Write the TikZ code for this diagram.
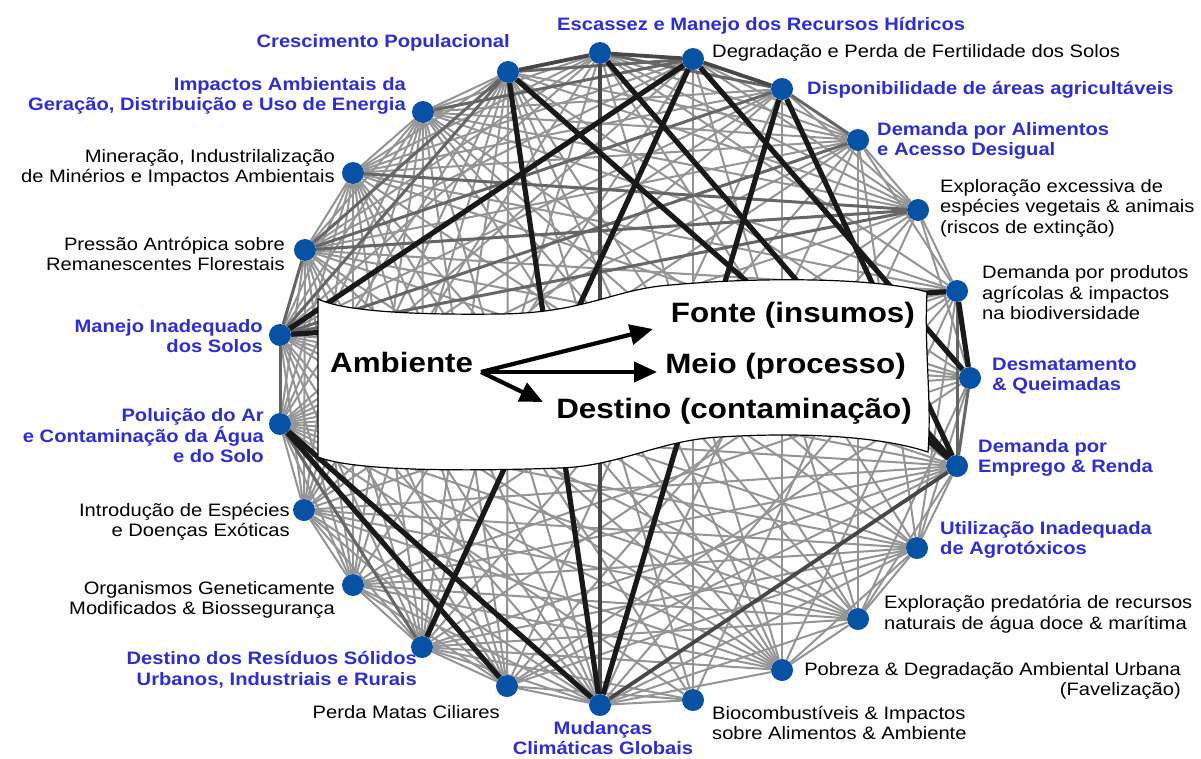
\documentclass[tikz,border=0pt]{standalone}
\usepackage{fontspec}
\setmainfont[FakeStretch=1.12]{Liberation Sans}
\usetikzlibrary{arrows.meta}
\definecolor{lblue}{RGB}{45,45,215}
\definecolor{dotblue}{RGB}{8,82,165}
\pgfdeclarelayer{back}
\pgfdeclarelayer{edges}
\pgfdeclarelayer{mid}
\pgfsetlayers{back,edges,mid,main}
\begin{document}
\begin{tikzpicture}[x=1pt,y=-1pt,
  lt/.style={draw=black!42, line width=2pt},
  md/.style={draw=black!60, line width=3pt},
  dk/.style={draw=black!72, line width=3.8pt},
  bk/.style={draw=black!90, line width=5.2pt},
  dot/.style={circle, fill=dotblue, minimum size=22pt, inner sep=0pt},
  bl/.style={text=lblue, font=\fontsize{18}{20.5}\selectfont\bfseries, inner sep=0pt},
  nl/.style={text=black, font=\fontsize{18}{20.5}\selectfont, inner sep=0pt},
  big/.style={font=\fontsize{28}{32}\selectfont\bfseries, inner sep=0pt},
  arr/.style={line width=4.2pt, -{Triangle[length=23pt,width=20pt]}}]
\begin{pgfonlayer}{back}
\fill[white] (0,0) rectangle (1201,758);
\end{pgfonlayer}
\useasboundingbox (0,0) rectangle (1201,758);
% nodes
\node[dot] (n1) at (600,53) {};
\node[dot] (n2) at (693,59) {};
\node[dot] (n3) at (782,89) {};
\node[dot] (n4) at (858,140) {};
\node[dot] (n5) at (918,210) {};
\node[dot] (n6) at (957,291) {};
\node[dot] (n7) at (970,378) {};
\node[dot] (n8) at (957,466) {};
\node[dot] (n9) at (917,548) {};
\node[dot] (n10) at (858,619) {};
\node[dot] (n11) at (782,670) {};
\node[dot] (n12) at (693,700) {};
\node[dot] (n13) at (600,705) {};
\node[dot] (n14) at (507,686) {};
\node[dot] (n15) at (422,647) {};
\node[dot] (n16) at (353,585) {};
\node[dot] (n17) at (304,510) {};
\node[dot] (n18) at (280,424) {};
\node[dot] (n19) at (280,335) {};
\node[dot] (n20) at (305,250) {};
\node[dot] (n21) at (353,173) {};
\node[dot] (n22) at (423,112) {};
\node[dot] (n23) at (508,72) {};
% edges
\begin{pgfonlayer}{edges}
\foreach \a/\b in {1/4,1/5,1/6,1/20,1/19,1/21,1/22,1/17,1/15,1/11,1/9,
  2/4,2/5,2/20,2/21,2/18,2/16,2/12,2/10,
  3/22,3/21,3/19,3/18,3/5,3/14,3/17,3/11,
  4/5,4/6,4/20,4/21,4/22,4/23,4/18,4/17,4/10,4/9,4/13,4/15,
  5/6,5/7,5/22,5/23,5/18,5/16,5/14,5/12,
  6/20,6/21,6/22,6/18,6/17,6/15,6/13,6/11,6/9,
  7/9,7/20,7/18,7/19,7/21,7/16,7/14,7/10,7/23,
  8/9,8/10,8/18,8/19,8/20,8/17,8/16,8/15,8/14,8/22,
  9/10,9/11,9/17,9/18,9/16,9/19,9/15,9/14,9/21,9/22,9/13,
  10/11,10/17,10/18,10/19,10/16,10/15,10/20,10/22,10/13,10/23,
  11/13,11/17,11/18,11/19,11/20,11/21,11/16,11/15,11/22,11/23,
  12/13,12/14,12/15,12/18,12/23,12/21,
  13/14,13/15,13/16,13/17,13/19,13/20,13/21,13/22,
  14/15,14/16,14/17,14/19,14/20,14/21,14/22,14/23,
  15/16,15/17,15/19,15/20,15/21,15/22,15/23,
  16/17,16/18,16/19,16/20,16/21,16/22,16/23,
  17/18,17/19,17/20,17/21,17/22,17/23,
  18/20,18/21,18/22,18/23,19/21,19/22,20/21,20/22,21/22,21/23,22/23}
  \draw[lt] (n\a) -- (n\b);
\foreach \a/\b in {1/3,2/23,3/4,3/20,4/19,5/21,5/20,5/19,6/8,7/8,15/18,18/19,19/20,19/23,20/23,2/22}
  \draw[md] (n\a) -- (n\b);
\foreach \a/\b in {1/13,13/8,2/3,1/2,23/1}
  \draw[dk] (n\a) -- (n\b);
\foreach \a/\b in {23/13,23/8,1/8,2/19,2/15,2/7,3/13,3/8,6/19,6/7,18/13,18/14}
  \draw[bk] (n\a) -- (n\b);
\end{pgfonlayer}
% banner
\begin{pgfonlayer}{mid}
\draw[fill=white, line width=1.2pt]
  (318,299) .. controls (345,312) and (420,315) .. (500,314)
  .. controls (580,313) and (610,292) .. (660,286)
  .. controls (760,276) and (880,278) .. (927,292)
  .. controls (924,350) and (932,400) .. (928,452)
  .. controls (880,436) and (800,432) .. (720,437)
  .. controls (660,440) and (620,466) .. (560,468)
  .. controls (450,472) and (350,470) .. (318,457) -- cycle;
\end{pgfonlayer}
\node[big, anchor=west] (amb) at (330,362) {Ambiente};
\node[big, anchor=east] (fon) at (915,315) {Fonte (insumos)};
\node[big, anchor=east] (mei) at (906,366) {Meio (processo)};
\node[big, anchor=east] (des) at (912,411) {Destino (contaminação)};
\coordinate (src) at (481,372);
\coordinate (tf) at (653,329);
\coordinate (tm) at (657,372);
\coordinate (td) at (543,402);
\draw[arr] (src) -- (tf);
\draw[arr] (src) -- (tm);
\draw[arr] (src) -- (td);
% labels
\node[bl, anchor=east] (l23) at (510,43) {Crescimento Populacional};
\node[bl, anchor=west] (l1) at (557,26) {Escassez e Manejo dos Recursos Hídricos};
\node[nl, anchor=west] (l2) at (712,53) {Degradação e Perda de Fertilidade dos Solos};
\node[bl, anchor=west] (l3) at (807,90) {Disponibilidade de áreas agricultáveis};
\node[bl, anchor=west, align=left] (l4) at (877,141) {Demanda por Alimentos\\e Acesso Desigual};
\node[nl, anchor=west, align=left] (l5) at (940,208) {Exploração excessiva de\\espécies vegetais \& animais\\(riscos de extinção)};
\node[nl, anchor=west, align=left] (l6) at (982,293) {Demanda por produtos\\agrícolas \& impactos\\na biodiversidade};
\node[bl, anchor=west, align=left] (l7) at (992,376) {Desmatamento\\\& Queimadas};
\node[bl, anchor=west, align=left] (l8) at (978,458) {Demanda por\\Emprego \& Renda};
\node[bl, anchor=west, align=left] (l9) at (940,540) {Utilização Inadequada\\de Agrotóxicos};
\node[nl, anchor=west, align=left] (l10) at (884,614) {Exploração predatória de recursos\\naturais de água doce \& marítima};
\node[nl, anchor=east, align=right] (l11) at (1181,681) {Pobreza \& Degradação Ambiental Urbana\\(Favelização)};
\node[nl, anchor=west, align=left] (l12) at (712,723) {Biocombustíveis \& Impactos\\sobre Alimentos \& Ambiente};
\node[bl, align=center] (l13) at (603,738) {Mudanças\\Climáticas Globais};
\node[nl, anchor=east] (l14) at (500,712) {Perda Matas Ciliares};
\node[bl, anchor=east, align=right] (l15) at (417,670) {Destino dos Resíduos Sólidos\\Urbanos, Industriais e Rurais};
\node[nl, anchor=east, align=right] (l16) at (335,600) {Organismos Geneticamente\\Modificados \& Biossegurança};
\node[nl, anchor=east, align=right] (l17) at (290,522) {Introdução de Espécies\\e Doenças Exóticas};
\node[bl, anchor=east, align=right] (l18) at (264,436) {Poluição do Ar\\e Contaminação da Água\\e do Solo};
\node[bl, anchor=east, align=right] (l19) at (263,336) {Manejo Inadequado\\dos Solos};
\node[nl, anchor=east, align=right] (l20) at (285,254) {Pressão Antrópica sobre\\Remanescentes Florestais};
\node[nl, anchor=east, align=right] (l21) at (335,168) {Mineração, Industrilalização\\de Minérios e Impactos Ambientais};
\node[bl, anchor=east, align=right] (l22) at (406,96) {Impactos Ambientais da\\Geração, Distribuição e Uso de Energia};
\end{tikzpicture}
\end{document}
